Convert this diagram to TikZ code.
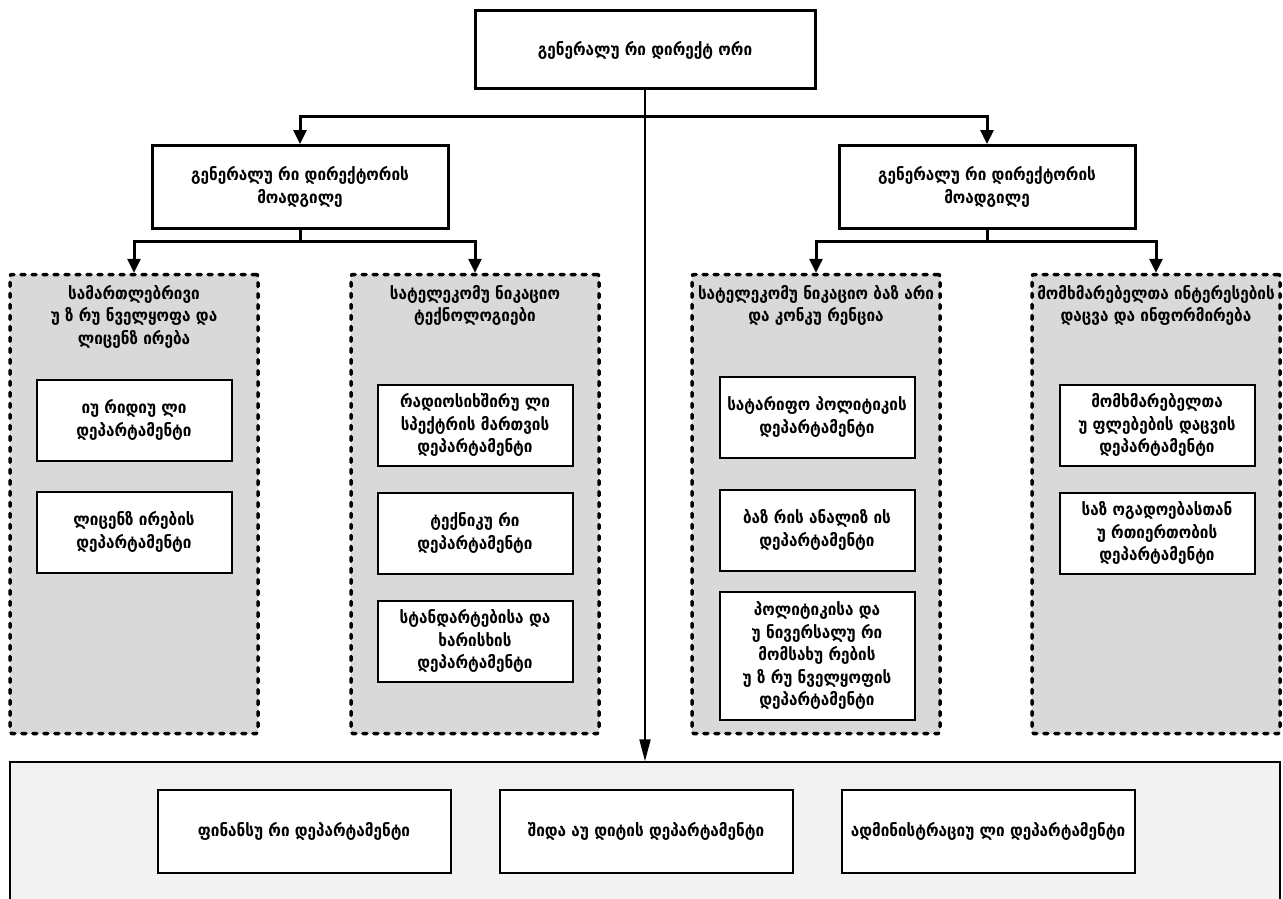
\documentclass[tikz,border=0pt]{standalone}
\usepackage{fontspec}
\setmainfont{DejaVu Sans Condensed}
\usetikzlibrary{positioning}
\usetikzlibrary{arrows.meta}

\definecolor{groupgray}{HTML}{D9D9D9}
\definecolor{basegray}{HTML}{F2F2F2}

\tikzset{
	txt/.style={font=\fontsize{17}{22.5}\selectfont\bfseries, align=center, inner sep=2pt},
	headbox/.style={txt, draw, line width=3pt, fill=white, minimum width=340pt, minimum height=78pt},
	deputybox/.style={txt, draw, line width=3pt, fill=white, minimum width=296pt, minimum height=83pt},
	groupbox/.style={draw, line width=3.5pt, line cap=round, dash pattern=on 4pt off 7pt,
		fill=groupgray, rounded corners=2pt, minimum width=248pt, minimum height=459pt},
	deptbox/.style={txt, draw, line width=2pt, fill=white, minimum width=195pt, minimum height=81pt},
	basebox/.style={draw, line width=1.5pt, fill=basegray, minimum width=1270pt, minimum height=146pt},
	unitbox/.style={txt, draw, line width=2pt, fill=white, minimum width=293pt, minimum height=83pt},
	branch/.style={line width=3pt, -{Triangle[length=14pt,width=13pt]}},
	trunk/.style={line width=2pt, -{Triangle[length=22pt,width=11pt]}}
}

\begin{document}
\begin{tikzpicture}[x=1pt, y=-1pt]
		\useasboundingbox (0,0) rectangle (1283,899);
		% top level
		\node[headbox] (gd) at (645,50) {გენერალუ რი დირექტ ორი};
		\node[deputybox] (depL) at (300,187) {გენერალუ რი დირექტორის\\მოადგილე};
		\node[deputybox] (depR) at (987,187) {გენერალუ რი დირექტორის\\მოადგილე};
		% groups
		\node[groupbox] (grpA) at (134,504) {};
		\node[groupbox] (grpB) at (475,504) {};
		\node[groupbox] (grpC) at (816,504) {};
		\node[groupbox] (grpD) at (1156,504) {};
		% group titles
		\node[txt, anchor=north] (titA) at (134,283) {სამართლებრივი\\უ ზ რუ ნველყოფა და\\ლიცენზ ირება};
		\node[txt, anchor=north] (titB) at (475,283) {სატელეკომუ ნიკაციო\\ტექნოლოგიები};
		\node[txt, anchor=north] (titC) at (816,283) {სატელეკომუ ნიკაციო ბაზ არი\\და კონკუ რენცია};
		\node[txt, anchor=north] (titD) at (1156,283) {მომხმარებელთა ინტერესების\\დაცვა და ინფორმირება};
		% departments
		\node[deptbox] (dA1) at (134,420) {იუ რიდიუ ლი\\დეპარტამენტი};
		\node[deptbox] (dA2) at (134,532) {ლიცენზ ირების\\დეპარტამენტი};
		\node[deptbox] (dB1) at (475,425) {რადიოსიხშირუ ლი\\სპექტრის მართვის\\დეპარტამენტი};
		\node[deptbox] (dB2) at (475,533) {ტექნიკუ რი\\დეპარტამენტი};
		\node[deptbox] (dB3) at (475,641) {სტანდარტებისა და\\ხარისხის\\დეპარტამენტი};
		\node[deptbox] (dC1) at (817,417) {სატარიფო პოლიტიკის\\დეპარტამენტი};
		\node[deptbox] (dC2) at (817,530) {ბაზ რის ანალიზ ის\\დეპარტამენტი};
		\node[deptbox, minimum height=128pt] (dC3) at (817,656) {პოლიტიკისა და\\უ ნივერსალუ რი\\მომსახუ რების\\უ ზ რუ ნველყოფის\\დეპარტამენტი};
		\node[deptbox] (dD1) at (1157,425) {მომხმარებელთა\\უ ფლებების დაცვის\\დეპარტამენტი};
		\node[deptbox] (dD2) at (1157,533) {საზ ოგადოებასთან\\უ რთიერთობის\\დეპარტამენტი};
		% base units
		\node[basebox] (base) at (645,835) {};
		\node[unitbox] (uF) at (304,831) {ფინანსუ რი დეპარტამენტი};
		\node[unitbox] (uI) at (646,831) {შიდა აუ დიტის დეპარტამენტი};
		\node[unitbox] (uA) at (988,831) {ადმინისტრაციუ ლი დეპარტამენტი};
		% connectors
		\coordinate (jTop) at (645,116);
		\coordinate (jL) at (300,241);
		\coordinate (jR) at (987,241);
		\draw[trunk] (gd.south) -- (base.north);
		\draw[branch] (jTop) -| (depL.north);
		\draw[branch] (jTop) -| (depR.north);
		\draw[branch] (depL.south) -- (jL) -| (grpA.north);
		\draw[branch] (jL) -| (grpB.north);
		\draw[branch] (depR.south) -- (jR) -| (grpC.north);
		\draw[branch] (jR) -| (grpD.north);
	\end{tikzpicture}
\end{document}
